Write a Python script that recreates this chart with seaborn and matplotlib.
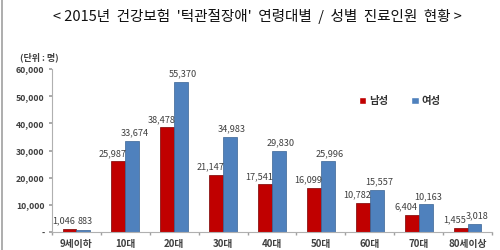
import matplotlib
matplotlib.use("Agg")
import matplotlib.pyplot as plt
import seaborn as sns
import pandas as pd
from matplotlib.lines import Line2D

categories = ["9세이하", "10대", "20대", "30대", "40대", "50대", "60대", "70대", "80세이상"]
male = [1046, 25987, 38478, 21147, 17541, 16099, 10782, 6404, 1455]
female = [883, 33674, 55370, 34983, 29830, 25996, 15557, 10163, 3018]
series_names = ["남성", "여성"]
y_ticks = [0, 10000, 20000, 30000, 40000, 50000, 60000]
title = "< 2015년  건강보험  '턱관절장애'  연령대별  /  성별  진료인원  현황 >"
unit_label = "(단위 : 명)"

sns.set_theme(style="white")
plt.rcParams["font.family"] = ["Noto Sans CJK KR", "DejaVu Sans"]

df = pd.DataFrame({
    "age": categories * 2,
    "sex": [series_names[0]] * len(categories) + [series_names[1]] * len(categories),
    "count": male + female,
})

colors = {"남성": "#C00000", "여성": "#4F81BD"}
edges = {"남성": "#7A0000", "여성": "#3A6494"}

fig = plt.figure(figsize=(5, 2.5), dpi=100)
ax = fig.add_axes([0.104, 0.072, 0.88, 0.652])

sns.barplot(data=df, x="age", y="count", hue="sex", order=categories,
            hue_order=series_names, palette=colors, width=0.57, gap=0,
            saturation=1, ax=ax, legend=True)

text_col = "#404040"
for cont, name in zip(ax.containers, series_names):
    for p in cont.patches:
        p.set_edgecolor(edges[name])
        p.set_linewidth(0.5)
        h = p.get_height()
        cx = p.get_x() + p.get_width() / 2
        dx = -4 if name == "남성" else 1.5
        ax.annotate(f"{int(round(h)):,}", (cx, h), xytext=(dx, 2.5),
                    textcoords="offset points", ha="center", va="bottom",
                    fontsize=6.6, color=text_col)

ax.set_xlim(-0.5, len(categories) - 0.5)
ax.set_ylim(0, 60000)
ax.set_yticks(y_ticks)
ax.set_yticklabels(["-" if v == 0 else f"{v:,}" for v in y_ticks],
                   fontsize=6.3, color=text_col, fontweight="bold")
ax.set_xticks(range(len(categories)))
ax.set_xticklabels(categories, fontsize=7, color=text_col, fontweight="bold")
ax.set_xticks([i + 0.5 for i in range(-1, len(categories))], minor=True)
ax.set_xlabel("")
ax.set_ylabel("")
ax.tick_params(axis="x", which="major", length=0, pad=5)
ax.tick_params(axis="x", which="minor", length=2.5, color="#A0A0A0", direction="out", bottom=True)
ax.tick_params(axis="y", length=2.5, color="#A0A0A0", direction="out", left=True, pad=3)
for s in ["top", "right"]:
    ax.spines[s].set_visible(False)
for s in ["left", "bottom"]:
    ax.spines[s].set_color("#B0B0B0")
    ax.spines[s].set_linewidth(0.8)

sns.move_legend(ax, "center", bbox_to_anchor=(0.80, 0.596),
                bbox_transform=fig.transFigure, ncol=2, frameon=False,
                title=None, fontsize=7.5, handlelength=0.7, handleheight=0.7,
                handletextpad=0.3, columnspacing=2.2)
for t in ax.get_legend().get_texts():
    t.set_fontweight("bold")
    t.set_color("#333333")

fig.text(0.515, 0.936, title, ha="center", va="center", fontsize=10.5, color="#111111")
fig.text(0.04, 0.772, unit_label, ha="left", va="center", fontsize=6.5, color=text_col, fontweight="bold")
fig.add_artist(Line2D([0.003, 0.003], [0, 1], transform=fig.transFigure, color="#A0A0A0", linewidth=1.2))

fig.savefig("out.png", dpi=100)
